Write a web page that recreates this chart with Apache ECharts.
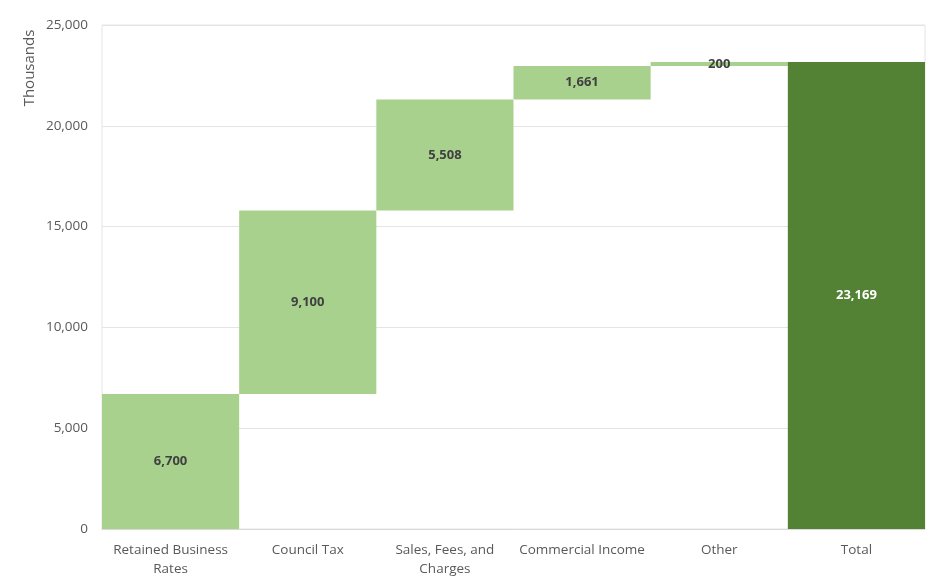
<!DOCTYPE html>
<html>
<head>
<meta charset="utf-8">
<style>html,body{margin:0;padding:0;background:#fff;}#c{width:944px;height:583px;}</style>
<script src="https://cdn.jsdelivr.net/npm/echarts@6/dist/echarts.min.js"></script>
</head>
<body>
<div id="c"></div>
<script>
const categories = ['Retained Business\nRates', 'Council Tax', 'Sales, Fees, and\nCharges', 'Commercial Income', 'Other', 'Total'];
const increments = [6700, 9100, 5508, 1661, 200];
const total = 23169;
const yTicks = [0, 5000, 10000, 15000, 20000, 25000];

const base = [];
let run = 0;
for (const v of increments) { base.push(run); run += v; }
base.push(0);
const values = increments.concat([total]);
const fmt = v => v.toLocaleString('en-US');

const chart = echarts.init(document.getElementById('c'), null, {renderer: 'canvas'});
chart.setOption({
  animation: false,
  grid: {left: 102, right: 19, top: 25, bottom: 54, show: true, borderColor: '#e4e4e4', borderWidth: 1},
  xAxis: {
    type: 'category', data: categories,
    axisLine: {lineStyle: {color: '#d9d9d9'}},
    axisTick: {show: false},
    axisLabel: {color: '#595959', fontFamily: 'Open Sans', fontSize: 13.5, margin: 12, lineHeight: 19, interval: 0}
  },
  yAxis: {
    type: 'value', min: yTicks[0], max: yTicks[yTicks.length - 1], interval: 5000,
    axisLine: {show: false}, axisTick: {show: false},
    splitLine: {lineStyle: {color: '#e4e4e4'}},
    axisLabel: {color: '#595959', fontFamily: 'Open Sans', fontSize: 13.5, margin: 14, formatter: v => fmt(v)}
  },
  graphic: [{
    type: 'text', x: 30, y: 68, rotation: Math.PI / 2,
    style: {text: 'Thousands', fill: '#595959', font: '15px "Open Sans"', align: 'center', verticalAlign: 'middle'}
  }],
  series: [
    {type: 'bar', stack: 'w', data: base, itemStyle: {color: 'transparent'}, barWidth: '100%', silent: true},
    {type: 'bar', stack: 'w', barWidth: '100%',
      data: values.map((v, i) => ({value: v, itemStyle: {color: i === values.length - 1 ? '#548235' : '#a9d18e'},
        label: {color: i === values.length - 1 ? '#ffffff' : '#404040'}})),
      label: {show: true, position: 'inside', fontFamily: 'Open Sans', fontSize: 13, fontWeight: 'bold', formatter: p => fmt(p.value)}
    }
  ]
});
</script>
</body>
</html>
